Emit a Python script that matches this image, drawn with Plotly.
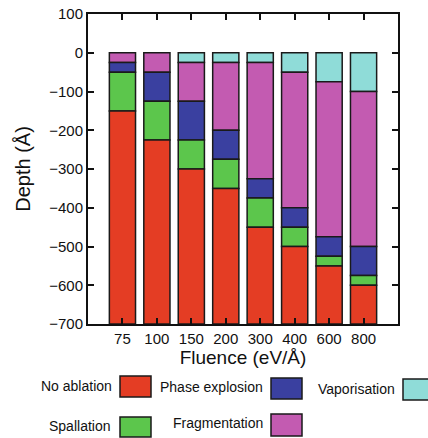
import plotly.graph_objects as go

fluence = ["75", "100", "150", "200", "300", "400", "600", "800"]

# layer thicknesses (Å), from the surface downward
vaporisation = [0, 0, 25, 25, 25, 50, 75, 100]
fragmentation = [25, 50, 100, 175, 300, 350, 400, 400]
phase_explosion = [25, 75, 100, 75, 50, 50, 50, 75]
spallation = [100, 100, 75, 75, 75, 50, 25, 25]
no_ablation = [550, 475, 400, 350, 250, 200, 150, 100]

y_ticks = [100, 0, -100, -200, -300, -400, -500, -600, -700]

series = [
    ("Vaporisation", vaporisation, "#8FDCD8"),
    ("Fragmentation", fragmentation, "#C35BB1"),
    ("Phase explosion", phase_explosion, "#3A40A0"),
    ("Spallation", spallation, "#5CC64C"),
    ("No ablation", no_ablation, "#E43D24"),
]

FONT = "Liberation Sans, Arial, Helvetica, sans-serif"

fig = go.Figure()
for name, vals, col in series:
    fig.add_trace(go.Bar(
        x=fluence, y=[-v for v in vals], name=name,
        marker=dict(color=col, line=dict(color="#1a1a1a", width=1.5)),
        width=0.76, showlegend=False,
    ))

W, H = 428, 438
L, R, T, B = 88, 30, 14, 114
pw, ph = W - L - R, H - T - B

def px(x):
    return (x - L) / pw

def py(y):
    return (H - B - y) / ph

# manual legend: text to the left of swatch
legend_items = [
    ("No ablation", "#E43D24", 114, 386, 120, 151, 376, 397),
    ("Phase explosion", "#3A40A0", 265, 387, 271, 302, 378, 399),
    ("Vaporisation", "#8FDCD8", 397, 389, 403, 434, 379, 400),
    ("Spallation", "#5CC64C", 113, 426, 120, 151, 417, 437),
    ("Fragmentation", "#C35BB1", 265, 423, 271, 302, 414, 436),
]
shapes = []
annotations = []
for name, col, tx, ty, x0, x1, y0, y1 in legend_items:
    shapes.append(dict(type="rect", xref="paper", yref="paper",
                       x0=px(x0), x1=px(x1), y0=py(y1), y1=py(y0),
                       fillcolor=col, line=dict(color="#1a1a1a", width=1.5)))
    annotations.append(dict(text=name, xref="paper", yref="paper",
                            x=px(tx), y=py(ty), xanchor="right", yanchor="middle",
                            showarrow=False, font=dict(size=14, color="#111", family=FONT)))

fig.update_layout(
    width=W, height=H,
    margin=dict(l=L, r=R, t=T, b=B),
    barmode="relative",
    plot_bgcolor="white", paper_bgcolor="white",
    font=dict(family=FONT, size=15, color="#111"),
    shapes=shapes, annotations=annotations,
    xaxis=dict(type="category", range=[-1, 8], automargin=False,
               showline=True, linecolor="#111", linewidth=2, mirror="ticks",
               ticks="inside", ticklen=6, tickwidth=1.5, tickcolor="#111",
               showgrid=False, zeroline=False,
               title=dict(text="Fluence (eV/Å)", font=dict(size=19), standoff=3)),
    yaxis=dict(range=[-700, 100], tickvals=y_ticks, automargin=False,
               showline=True, linecolor="#111", linewidth=2, mirror="ticks",
               ticks="inside", ticklen=6, tickwidth=1.5, tickcolor="#111",
               showgrid=False, zeroline=False,
               title=dict(text="Depth (Å)", font=dict(size=20), standoff=13)),
)

fig.write_html("out.html", config={"displayModeBar": False},
               post_script="document.body.style.margin='0';document.body.style.overflow='hidden';")
